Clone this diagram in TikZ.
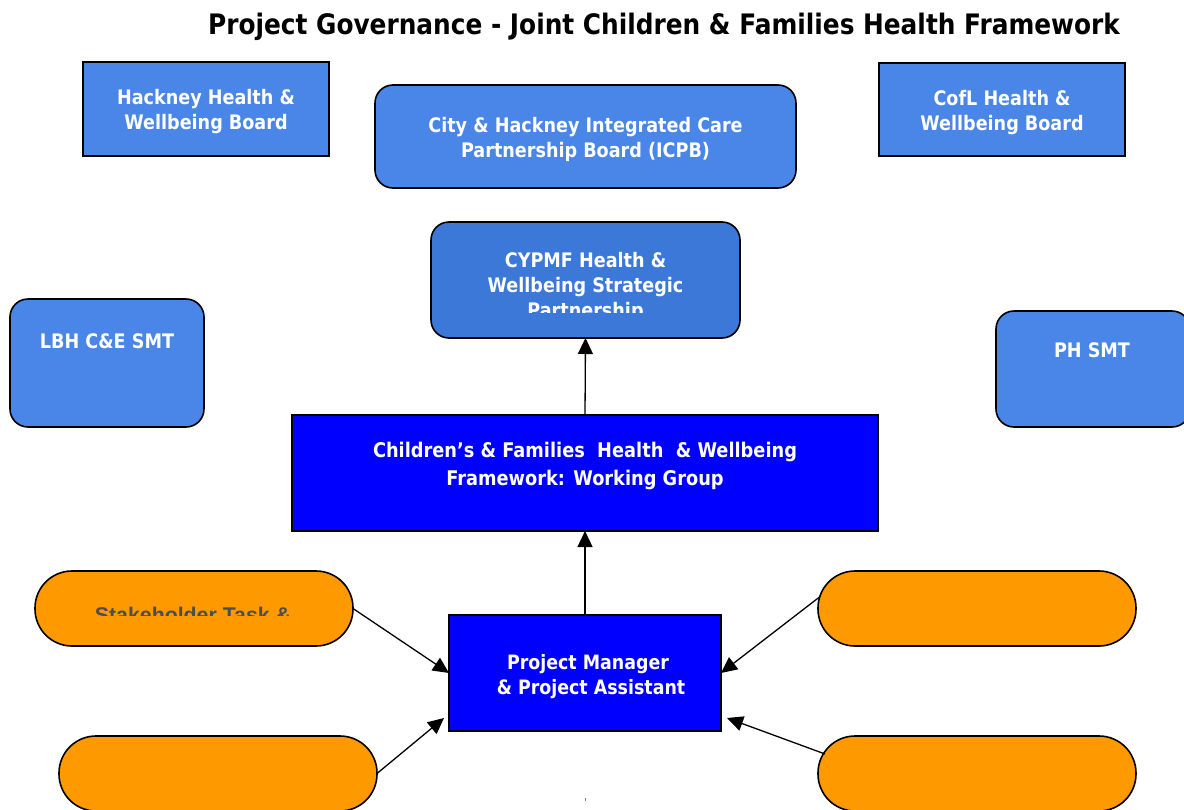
\documentclass[tikz,border=0pt]{standalone}
\usepackage{fontspec}
\setmainfont{DejaVu Sans}
\newfontfamily\boxfont[FakeStretch=0.88]{DejaVu Sans Bold}
\newfontfamily\stakefont{Liberation Sans Bold}
\usetikzlibrary{arrows.meta}
\definecolor{lblue}{HTML}{4A86E8}
\definecolor{mblue}{HTML}{3C78D8}
\definecolor{pblue}{HTML}{0000FF}
\definecolor{orng}{HTML}{FF9900}
\definecolor{stgray}{HTML}{4D4D4D}
\tikzset{
  boxbase/.style={draw=black, line width=1.6pt, inner sep=0pt, outer sep=0pt},
  sqbox/.style={boxbase, fill=lblue, rectangle},
  rbox/.style={boxbase, fill=lblue, rounded corners=18pt},
  cybox/.style={boxbase, fill=mblue, rounded corners=18pt},
  dbox/.style={boxbase, fill=pblue},
  pill/.style={boxbase, fill=orng, rounded corners=37pt, minimum width=318pt, minimum height=75pt},
  btext/.style={text=white, align=center, anchor=base, inner sep=0pt, font=\boxfont\fontsize{20}{25}\selectfont},
  arr/.style={line width=1.3pt, -{Triangle[length=16pt,width=15pt]}},
}
\begin{document}
\begin{tikzpicture}[x=1pt,y=-1pt]
\useasboundingbox (0,0) rectangle (1184,809);
% title
\node[anchor=base, inner sep=0pt, font=\boxfont\fontsize{28.2}{32}\selectfont] (title) at (664,34) {Project Governance - Joint Children \& Families Health Framework};
% top row
\node[sqbox, minimum width=246pt, minimum height=94pt] (hwb) at (206,109) {};
\node[btext] (hwbt) at (206,129) {Hackney Health \&\\Wellbeing Board};
\node[rbox, minimum width=421pt, minimum height=103pt] (icpb) at (585.5,136.5) {};
\node[btext] (icpbt) at (585.5,157) {City \& Hackney Integrated Care\\Partnership Board (ICPB)};
\node[sqbox, minimum width=246pt, minimum height=93pt] (cofl) at (1002,109.5) {};
\node[btext] (coflt) at (1002,130) {CofL Health \&\\Wellbeing Board};
% CYPMF
\node[cybox, minimum width=309pt, minimum height=116pt] (cyp) at (585.5,280) {};
\begin{scope}
\clip (431,222) rectangle (740,312);
\node[btext] (cypt) at (585.5,317) {CYPMF Health \&\\Wellbeing Strategic\\Partnership};
\end{scope}
% side boxes
\node[rbox, minimum width=194pt, minimum height=128pt] (lbh) at (107,363) {};
\node[btext] (lbht) at (107,348) {LBH C\&E SMT};
\node[rbox, minimum width=194pt, minimum height=116pt] (ph) at (1093,369) {};
\node[btext] (pht) at (1092,357) {PH SMT};
% working group
\node[dbox, minimum width=586pt, minimum height=116pt] (wg) at (585,473) {};
\node[btext, font=\boxfont\fontsize{20.2}{28}\selectfont] (wgt) at (585,485) {Children’s \& Families\ \ Health\ \ \& Wellbeing\\Framework: Working Group};
% project manager
\node[dbox, minimum width=272pt, minimum height=116pt] (pm) at (585,673) {};
\node[btext, font=\boxfont\fontsize{19.8}{25}\selectfont] (pmt) at (588,694) {Project Manager\\\ \& Project Assistant};
% pills
\node[pill] (tl) at (194,608.5) {};
\node[pill] (tr) at (977,608.5) {};
\node[pill] (bl) at (218,773.5) {};
\node[pill] (br) at (977,773.5) {};
\begin{scope}
\clip (35,571) rectangle (353,615);
\node[anchor=base, inner sep=0pt, text=stgray, font=\stakefont\fontsize{21.3}{25}\selectfont] (tlt) at (193,622) {Stakeholder Task \&};
\end{scope}
% connectors
\draw[arr] (wg.north) -- (cyp.south);
\draw[arr] (pm.north) -- (wg.south);
\coordinate (pmbl) at ([xshift=-5pt,yshift=13pt]pm.south west);
\coordinate (pmbr) at ([xshift=6pt,yshift=13pt]pm.south east);
\coordinate (trs) at ([xshift=1pt]tr.176);
\coordinate (brs) at ([xshift=7pt]br.173);
\draw[arr] (tl.east) -- (pm.west);
\draw[arr] (bl.east) -- (pmbl);
\draw[arr] (trs) -- (pm.east);
\draw[arr] (brs) -- (pmbr);
\draw[gray, line width=0.8pt] (585,798) -- (585,801);
\end{tikzpicture}
\end{document}
